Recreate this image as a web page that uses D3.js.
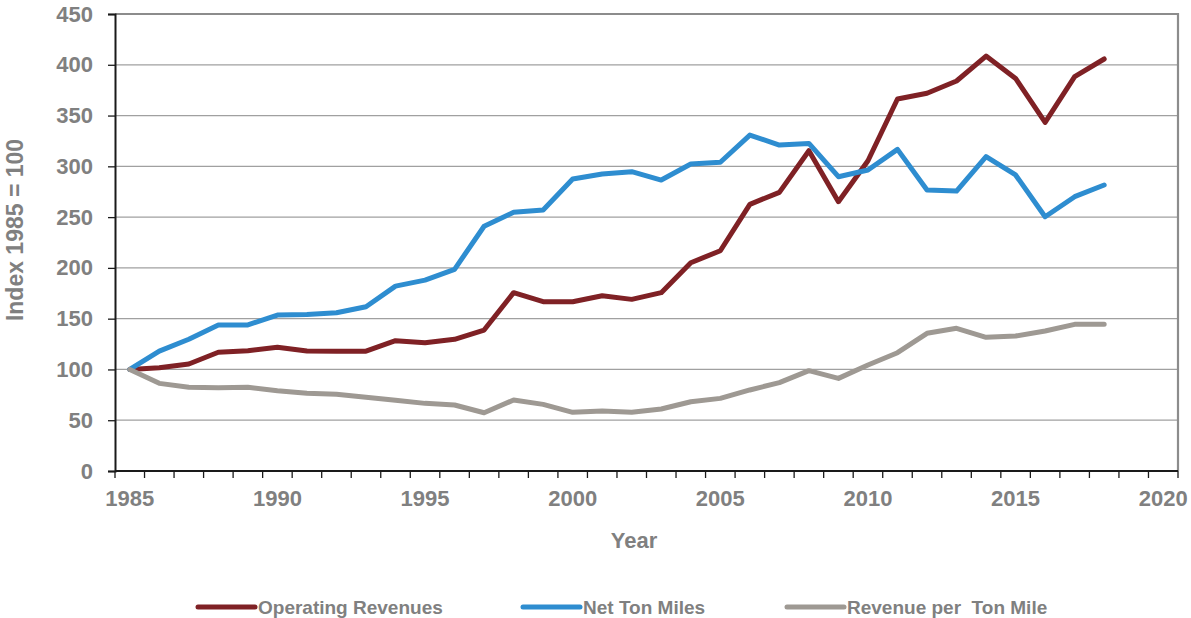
<!DOCTYPE html>
<html>
<head>
<meta charset="utf-8">
<script src="https://cdn.jsdelivr.net/npm/d3@7"></script>
<style>
  html, body { margin: 0; padding: 0; background: #ffffff; }
  svg { display: block; font-family: "Liberation Sans", Arial, sans-serif; font-weight: bold; }
</style>
</head>
<body>
<svg id="chart" width="1191" height="618"></svg>
<script>
// Index values, 1985 = 100
const years = d3.range(1985, 2019);
const categories = d3.range(1985, 2021); // axis runs to 2020
const tickLabels = [1985, 1990, 1995, 2000, 2005, 2010, 2015, 2020];
const yTicks = [0, 50, 100, 150, 200, 250, 300, 350, 400, 450];

const operatingRevenues = [100, 101.7, 105.4, 116.9, 118.5, 121.8, 118.2, 118, 118, 128.3,
  126.3, 129.7, 138.8, 175.6, 166.7, 166.7, 172.6, 169, 175.6, 205.1,
  216.9, 262.6, 274.4, 315.4, 265.2, 305.5, 366.3, 371.9, 384, 408.6,
  386.6, 343.3, 388.3, 405.7];
const netTonMiles = [100, 118, 129.7, 143.8, 143.8, 153.6, 154, 155.9, 161.8, 182,
  188, 198.6, 241, 254.7, 257, 287.5, 292.4, 294.7, 286.5, 302.3,
  304, 330.8, 321, 322.6, 289.8, 296.4, 316.7, 276.7, 275.7, 309.5,
  291.5, 250.4, 270.1, 281.6];
const revenuePerTonMile = [100, 86.3, 82.4, 82, 82.4, 79, 76.5, 75.5, 72.6, 69.6,
  66.6, 65, 57.4, 69.9, 65.6, 57.8, 59, 57.8, 61, 68.2,
  71.5, 79.8, 87, 98.8, 91.2, 104.4, 116.5, 135.6, 140.5, 131.6,
  132.9, 137.8, 144.4, 144.4];

const seriesNames = ["Operating Revenues", "Net Ton Miles", "Revenue per  Ton Mile"];
const seriesColors = ["#7f2125", "#2e8dd0", "#9e9993"];
const seriesValues = [operatingRevenues, netTonMiles, revenuePerTonMile];

const textColor = "#808080";
const svg = d3.select("#chart");

const plotLeft = 115, plotRight = 1178, plotTop = 14, plotBottom = 471;

const x = d3.scaleBand().domain(categories).range([plotLeft, plotRight]).padding(0);
const y = d3.scaleLinear().domain([0, 450]).range([plotBottom, plotTop]);
const cx = yr => x(yr) + x.bandwidth() / 2;

// horizontal gridlines
svg.append("g")
  .selectAll("line")
  .data(yTicks.filter(t => t > 0 && t < 450))
  .join("line")
  .attr("x1", plotLeft).attr("x2", plotRight)
  .attr("y1", d => y(d)).attr("y2", d => y(d))
  .attr("stroke", "#a0a0a0").attr("stroke-width", 1.2);

// plot frame: top and right edges
svg.append("path")
  .attr("d", `M${plotLeft},${y(450)}H${plotRight}V${plotBottom}`)
  .attr("fill", "none").attr("stroke", "#8c8c8c").attr("stroke-width", 2.2);

// y axis
const yAxis = svg.append("g")
  .attr("transform", `translate(${plotLeft},0)`)
  .call(d3.axisLeft(y).tickValues(yTicks).tickSize(7).tickPadding(15));
yAxis.select(".domain").attr("stroke", "#1a1a1a").attr("stroke-width", 2);
yAxis.selectAll(".tick line").attr("stroke", "#1a1a1a").attr("stroke-width", 1.3);
yAxis.selectAll(".tick text")
  .attr("fill", textColor).attr("font-size", 22).attr("font-weight", "bold")
  .attr("font-family", "'Liberation Sans', Arial, sans-serif");

// x axis: tick marks on category boundaries, labels on category centres
const xAxis = svg.append("g").attr("transform", `translate(0,${plotBottom})`);
xAxis.append("line")
  .attr("x1", plotLeft).attr("x2", plotRight)
  .attr("stroke", "#1a1a1a").attr("stroke-width", 2);
xAxis.selectAll("line.tick")
  .data(categories.map(c => x(c)).concat([plotRight]))
  .join("line")
  .attr("class", "tick")
  .attr("x1", d => d).attr("x2", d => d)
  .attr("y1", 0).attr("y2", 7)
  .attr("stroke", "#1a1a1a").attr("stroke-width", 1.3);
xAxis.selectAll("text")
  .data(tickLabels)
  .join("text")
  .attr("x", d => cx(d))
  .attr("y", 35)
  .attr("text-anchor", "middle")
  .attr("fill", textColor).attr("font-size", 22)
  .text(d => d);

// axis titles
svg.append("text")
  .attr("x", 634).attr("y", 548)
  .attr("text-anchor", "middle")
  .attr("fill", textColor).attr("font-size", 22)
  .text("Year");
svg.append("text")
  .attr("transform", "translate(23,230) rotate(-90)")
  .attr("text-anchor", "middle")
  .attr("fill", textColor).attr("font-size", 23)
  .text("Index 1985 = 100");

// series lines
const line = d3.line()
  .x((d, i) => cx(years[i]))
  .y(d => y(d));

svg.append("g")
  .selectAll("path")
  .data(seriesValues)
  .join("path")
  .attr("d", d => line(d))
  .attr("fill", "none")
  .attr("stroke", (d, i) => seriesColors[i])
  .attr("stroke-width", 5)
  .attr("stroke-linejoin", "round")
  .attr("stroke-linecap", "round");

// legend
const legendX = [198, 523, 787];
const legendY = 607;
const legend = svg.append("g")
  .selectAll("g")
  .data(seriesNames)
  .join("g")
  .attr("transform", (d, i) => `translate(${legendX[i]},${legendY})`);
legend.append("line")
  .attr("x1", 0).attr("x2", 57)
  .attr("stroke", (d, i) => seriesColors[i])
  .attr("stroke-width", 5)
  .attr("stroke-linecap", "round");
legend.append("text")
  .attr("x", 60).attr("y", 6.5)
  .attr("fill", textColor).attr("font-size", 19)
  .style("white-space", "pre")
  .text(d => d);
</script>
</body>
</html>
